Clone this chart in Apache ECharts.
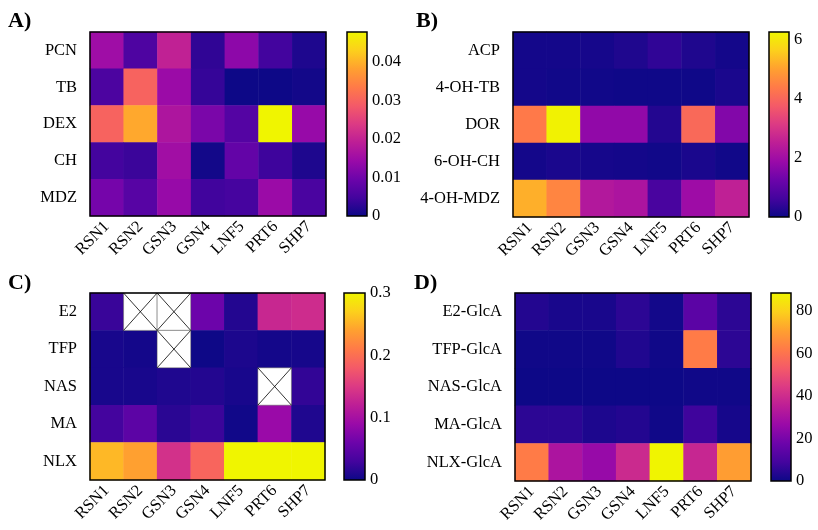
<!DOCTYPE html>
<html>
<head>
<meta charset="utf-8">
<script src="https://cdn.jsdelivr.net/npm/echarts@6/dist/echarts.min.js"></script>
<style>
  html, body { margin: 0; padding: 0; background: #fff; }
  #chart { width: 818px; height: 530px; }
</style>
</head>
<body>
<div id="chart"></div>
<script>
// categories
const strains = ["RSN1", "RSN2", "GSN3", "GSN4", "LNF5", "PRT6", "SHP7"];
const rowsA = ["PCN", "TB", "DEX", "CH", "MDZ"];
const rowsB = ["ACP", "4-OH-TB", "DOR", "6-OH-CH", "4-OH-MDZ"];
const rowsC = ["E2", "TFP", "NAS", "MA", "NLX"];
const rowsD = ["E2-GlcA", "TFP-GlcA", "NAS-GlcA", "MA-GlcA", "NLX-GlcA"];

// values, one row per compound (null = not measured)
const valuesA = [
  [0.015, 0.006, 0.0196, 0.003, 0.013, 0.0047, 0.0015],
  [0.0057, 0.030, 0.0145, 0.0035, 0.000, 0.000, 0.0005],
  [0.030, 0.039, 0.017, 0.011, 0.0067, 0.0478, 0.014],
  [0.0048, 0.004, 0.0153, 0.0005, 0.0085, 0.0043, 0.0015],
  [0.0105, 0.007, 0.014, 0.0045, 0.005, 0.0145, 0.0055]
];
const valuesB = [
  [0.08, 0.08, 0.1, 0.2, 0.4, 0.2, 0.08],
  [0.08, 0.05, 0.05, 0.02, 0.02, 0.02, 0.15],
  [4.35, 6.2, 1.75, 1.75, 0.25, 4.05, 1.55],
  [0.08, 0.15, 0.1, 0.08, 0.05, 0.15, 0.05],
  [5.2, 4.55, 2.3, 2.2, 0.7, 1.95, 2.55]
];
const valuesC = [
  [0.024, null, null, 0.06, 0.012, 0.13, 0.135],
  [0.006, 0.004, null, 0.0005, 0.008, 0.004, 0.005],
  [0.006, 0.006, 0.01, 0.012, 0.006, null, 0.02],
  [0.03, 0.048, 0.016, 0.025, 0.002, 0.09, 0.01],
  [0.255, 0.24, 0.14, 0.19, 0.3, 0.3, 0.3]
];
const valuesD = [
  [3.5, 2, 2, 5, 1, 14, 5],
  [0.5, 0.5, 0.5, 3, 0.5, 62, 5],
  [0, 0, 0, 0, 0, 0.5, 0.5],
  [5, 5, 2.5, 3.5, 0.5, 8, 1.5],
  [62, 31, 26, 39, 88, 38, 70]
];

// colour bar ranges and ticks
const maxA = 0.0478, ticksA = 0.01;
const maxB = 6.25, ticksB = 2;
const maxC = 0.3, ticksC = 0.1;
const maxD = 88.3, ticksD = 20;

// plasma-like scale, a little more saturated as in the figure
const plasma = ["#0d0887", "#44049e", "#6c04aa", "#9a0aa8", "#bd1e96",
  "#dc3a84", "#f45a68", "#ff7a48", "#ffa030", "#fcd01c", "#f0f500"];

const FONT = "Liberation Serif";
const FS = 16.5;

const panels = [
  { tag: "A)", rows: rowsA, vals: valuesA, max: maxA, step: ticksA, topLabel: false,
    grid: [90, 32, 236, 184], bar: [347, 32, 20, 184], label: [3, 5] },
  { tag: "B)", rows: rowsB, vals: valuesB, max: maxB, step: ticksB, topLabel: false,
    grid: [513, 32, 236, 185], bar: [769, 32, 20, 185], label: [411, 5] },
  { tag: "C)", rows: rowsC, vals: valuesC, max: maxC, step: ticksC, topLabel: true,
    grid: [90, 293, 235, 187], bar: [344, 293, 21, 187], label: [3, 267] },
  { tag: "D)", rows: rowsD, vals: valuesD, max: maxD, step: ticksD, topLabel: false,
    grid: [515, 293, 236, 188], bar: [771, 293, 20, 188], label: [409, 267] }
];

const grids = [], xAxes = [], yAxes = [], series = [], visualMaps = [], titles = [];

panels.forEach((p) => {
  const g = grids.length;
  grids.push({ left: p.grid[0], top: p.grid[1], width: p.grid[2], height: p.grid[3],
    show: true, borderColor: "#000", borderWidth: 1.5, backgroundColor: "transparent", z: 5 });
  grids.push({ left: p.bar[0], top: p.bar[1], width: p.bar[2], height: p.bar[3],
    show: true, borderColor: "#000", borderWidth: 1.5, backgroundColor: "transparent", z: 5 });

  xAxes.push({ type: "category", gridIndex: g, data: strains,
    axisLine: { show: false }, splitLine: { show: false },
    axisTick: { alignWithLabel: true, length: 5, lineStyle: { color: "#000", width: 1.2 } },
    axisLabel: { rotate: 45, color: "#000", fontFamily: FONT, fontSize: FS, margin: 8 } });
  yAxes.push({ type: "category", gridIndex: g, data: p.rows, inverse: true,
    axisLine: { show: false }, splitLine: { show: false },
    axisTick: { alignWithLabel: true, length: 5, lineStyle: { color: "#000", width: 1.2 } },
    axisLabel: { color: "#000", fontFamily: FONT, fontSize: FS, margin: 13 } });

  // colour bar axes
  xAxes.push({ type: "category", gridIndex: g + 1, data: [""], show: false });
  yAxes.push({ type: "value", gridIndex: g + 1, min: 0, max: p.max, interval: p.step,
    position: "right", splitLine: { show: false }, axisLine: { show: false },
    axisTick: { inside: true, length: 4, lineStyle: { color: "#000", width: 1.5 } },
    axisLabel: { color: "#000", fontFamily: FONT, fontSize: FS, margin: 5,
      showMaxLabel: p.topLabel } });
  yAxes.push({ type: "value", gridIndex: g + 1, min: 0, max: p.max, interval: p.step,
    position: "left", splitLine: { show: false }, axisLine: { show: false },
    axisTick: { inside: true, length: 4, lineStyle: { color: "#000", width: 1.5 } },
    axisLabel: { show: false } });

  const yBar = yAxes.length - 2;
  const xMain = xAxes.length - 2, yMain = yAxes.length - 3;

  const cells = [], missing = [];
  p.vals.forEach((row, r) => row.forEach((v, c) => {
    if (v === null) missing.push([c, r]);
    else cells.push([c, r, v]);
  }));

  const si = series.length;
  series.push({ type: "heatmap", xAxisIndex: xMain, yAxisIndex: yMain, data: cells,
    itemStyle: { borderWidth: 0 }, emphasis: { disabled: true } });
  visualMaps.push({ show: false, type: "continuous", seriesIndex: si, min: 0, max: p.max,
    dimension: 2, inRange: { color: plasma } });

  if (missing.length) {
    series.push({ type: "custom", xAxisIndex: xMain, yAxisIndex: yMain, data: missing, z: 3,
      renderItem: (params, api) => {
        const c = api.coord([api.value(0), api.value(1)]);
        const s = api.size([1, 1]);
        const x0 = c[0] - s[0] / 2, y0 = c[1] - s[1] / 2;
        return { type: "group", children: [
          { type: "rect", shape: { x: x0, y: y0, width: s[0], height: s[1] },
            style: { fill: "#fff", stroke: "#555", lineWidth: 0.5 } },
          { type: "line", shape: { x1: x0, y1: y0, x2: x0 + s[0], y2: y0 + s[1] },
            style: { stroke: "#000", lineWidth: 0.8 } },
          { type: "line", shape: { x1: x0 + s[0], y1: y0, x2: x0, y2: y0 + s[1] },
            style: { stroke: "#000", lineWidth: 0.8 } }
        ] };
      } });
  }

  // colour bar drawn as one bar spanning 0..max
  series.push({ type: "bar", xAxisIndex: xAxes.length - 1, yAxisIndex: yBar,
    data: [p.max], barWidth: "100%", silent: true,
    itemStyle: { color: new echarts.graphic.LinearGradient(0, 1, 0, 0,
      plasma.map((col, k) => ({ offset: k / (plasma.length - 1), color: col }))) } });

  titles.push({ text: p.tag, left: p.label[0], top: p.label[1],
    textStyle: { fontFamily: FONT, fontSize: 22, fontWeight: "bold", color: "#000" } });
});

const chart = echarts.init(document.getElementById("chart"), null, { renderer: "canvas" });
chart.setOption({
  animation: false,
  backgroundColor: "#fff",
  title: titles,
  grid: grids,
  xAxis: xAxes,
  yAxis: yAxes,
  visualMap: visualMaps,
  series: series
});
</script>
</body>
</html>
